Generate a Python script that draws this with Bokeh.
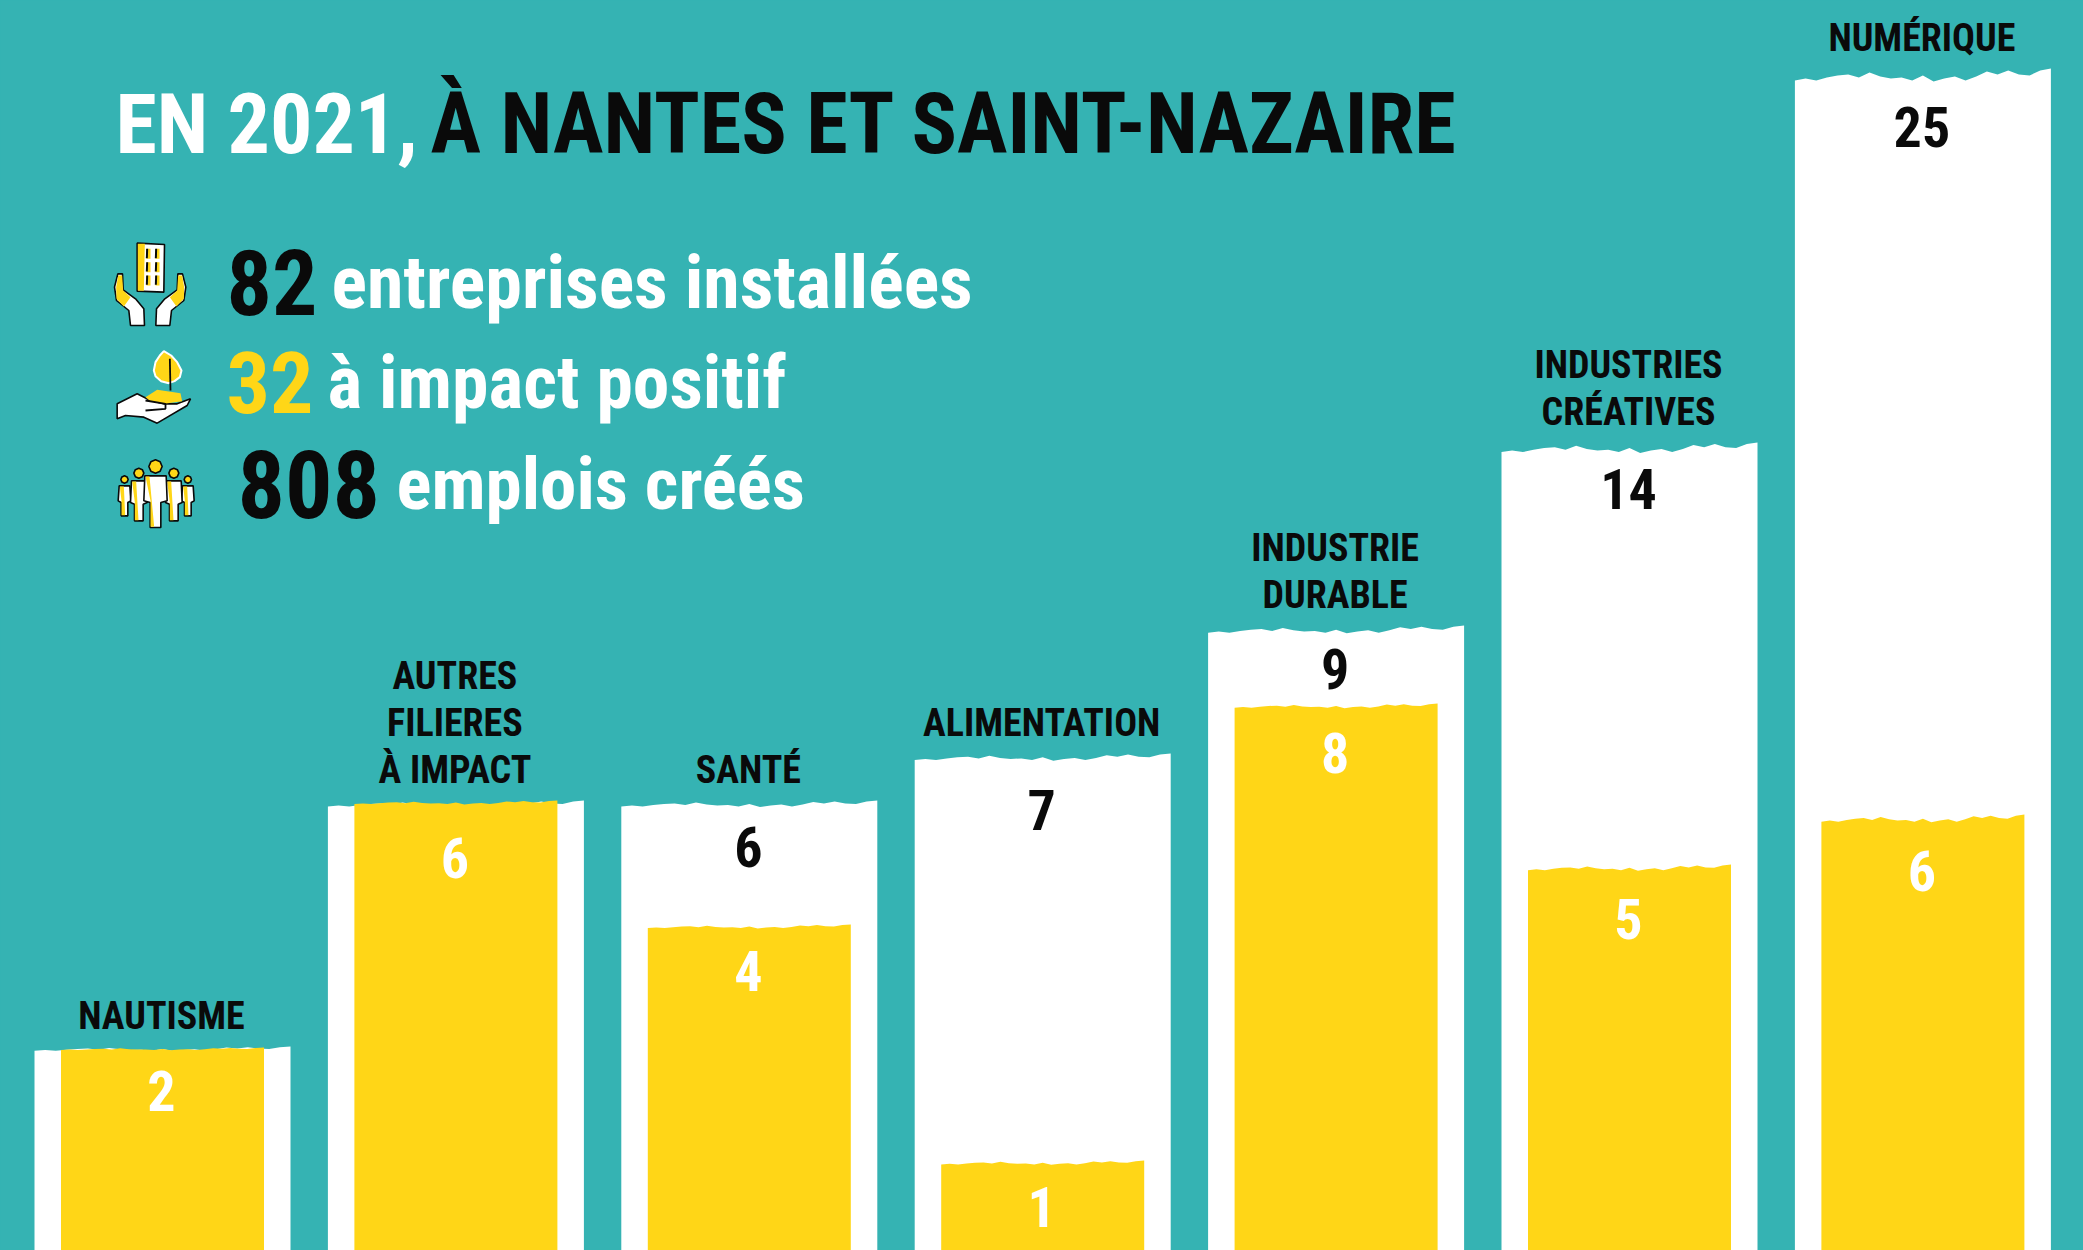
from bokeh.plotting import figure
from bokeh.models import Range1d
from bokeh.core.properties import value
from bokeh.embed import file_html
from bokeh.resources import INLINE

W, H = 2083, 1250
TEAL, YELLOW, WHITE, BLACK = "#35B3B3", "#FFD617", "#FFFFFF", "#0A0A0A"
FONT = value("'Roboto Condensed', Roboto")

# ---- data ----
categories = [["NAUTISME"], ["AUTRES", "FILIERES", "À IMPACT"], ["SANTÉ"], ["ALIMENTATION"],
              ["INDUSTRIE", "DURABLE"], ["INDUSTRIES", "CRÉATIVES"], ["NUMÉRIQUE"]]
total_companies = [2, 6, 6, 7, 9, 14, 25]
impact_companies = [2, 6, 4, 1, 8, 5, 6]
# drawn bar heights (the reference is not to scale)
total_heights = [204, 450, 450, 497, 625, 808, 1182]
impact_heights = [203, 450, 326, 90, 547, 386, 436]
tear_profile = [12, 10, 12, 9, 7, 6, 9, 4, 8, 10, 9, 12, 7, 13, 10, 8, 12, 8, 3, 6, 2, 6, 7, 2, 0]
tear_amount = [0.35, 0.5, 0.5, 0.55, 0.6, 0.8, 1.0]
total_drop = [0, 0, 46, 56, 43, 46, 58]
impact_drop = [43, 57, 46, 46, 49, 54, 56]

p = figure(width=W, height=H, output_backend="svg", toolbar_location=None,
           x_range=Range1d(0, W), y_range=Range1d(0, H), min_border=0,
           background_fill_color=TEAL, border_fill_color=TEAL, outline_line_color=None)
p.axis.visible = False
p.grid.visible = False

centers = [162 + 293.4 * i for i in range(len(categories))]


def torn_bar(cx, width, top, color, amp=1.0):
    n = len(tear_profile)
    xs = [cx - width / 2 + width * i / (n - 1) for i in range(n)]
    ys = [top - d * amp for d in tear_profile]
    p.patch(xs + [cx + width / 2, cx - width / 2], ys + [0, 0], fill_color=color, line_color=None)


for c, t, y, a in zip(centers, total_heights, impact_heights, tear_amount):
    torn_bar(c, 256, t, WHITE, a)
    torn_bar(c, 203, y, YELLOW, a * 0.6)


def txt(x, y, s, color, size, align="center", baseline="middle"):
    p.text([x], [y], text=[s], text_color=color, text_font=FONT, text_font_style="bold",
           text_font_size=f"{size}px", text_align=align, text_baseline=baseline)


for c, lines, top in zip(centers, categories, total_heights):
    for j, line in enumerate(reversed(lines)):
        txt(c - 1, top + 31 + 47 * j, line, BLACK, 38)

for i, c in enumerate(centers):
    if total_drop[i]:
        txt(c - 1, total_heights[i] - total_drop[i], str(total_companies[i]), BLACK, 56)
    txt(c - 1, impact_heights[i] - impact_drop[i], str(impact_companies[i]), WHITE, 56)

# header
txt(115, H - 124, "EN 2021,", WHITE, 84, "left")
txt(430, H - 124, "À NANTES ET SAINT-NAZAIRE", BLACK, 84.5, "left")
txt(226, H - 282, "82", BLACK, 90, "left")
txt(331, H - 282, "entreprises installées", WHITE, 74, "left")
txt(226, H - 382, "32", YELLOW, 86, "left")
txt(327, H - 382, "à impact positif", WHITE, 73.5, "left")
txt(237, H - 483, "808", BLACK, 94, "left")
txt(396, H - 483, "emplois créés", WHITE, 73, "left")


# icons: shapes in the coordinates of a 110x310 crop at (100,230), 3x
def ix(v):
    return [100 + a / 3 for a in v]


def iy(v):
    return [H - 230 - a / 3 for a in v]


def shape(pts, fill, line=BLACK, lw=1.6):
    xs, ys = zip(*pts)
    p.patch(ix(xs), iy(ys), fill_color=fill, line_color=line, line_width=lw)


def stroke(pts, lw=1.8):
    xs, ys = zip(*pts)
    p.line(ix(xs), iy(ys), line_color=BLACK, line_width=lw)


def disc(x, y, r, fill):
    shape([(x + r * a, y + r * b) for a, b in
           [(1, 0), (.7, .7), (0, 1), (-.7, .7), (-1, 0), (-.7, -.7), (0, -1), (.7, -.7)]], fill)


# building in hands
shape([(110, 38), (192, 42), (190, 185), (110, 182)], WHITE)
shape([(112, 40), (133, 40), (130, 181), (112, 180)], YELLOW, None)
for wx in (138, 165):
    for wy in (55, 95, 135):
        shape([(wx, wy), (wx + 12, wy), (wx + 12, wy + 30), (wx, wy + 30)], YELLOW, None)
        stroke([(wx + 2, wy), (wx + 1, wy + 28)], 2)
left_hand = [(52, 130), (66, 130), (68, 178), (105, 205), (130, 235), (132, 285), (90, 285),
             (85, 240), (48, 210), (42, 170)]
left_yellow = [(53, 135), (65, 135), (68, 180), (90, 200), (70, 228), (48, 205), (47, 170)]
shape(left_hand, WHITE)
shape(left_yellow, YELLOW, None)
shape([(298 - a, b) for a, b in left_hand], WHITE)
shape([(298 - a, b) for a, b in left_yellow], YELLOW, None)

# leaf on hand
shape([(190, 362), (212, 375), (230, 395), (243, 420), (238, 440), (222, 452), (205, 458), (182, 452),
       (165, 437), (160, 420), (165, 395), (178, 375)], YELLOW, WHITE, 2)
stroke([(208, 385), (210, 480)])
shape([(50, 520), (110, 490), (150, 510), (190, 520), (230, 520), (270, 505), (260, 525), (170, 578),
       (130, 560), (75, 555), (50, 565)], WHITE)
shape([(135, 500), (170, 478), (240, 488), (245, 512), (190, 520), (150, 512)], YELLOW, None)
stroke([(135, 510), (195, 520), (195, 535), (135, 540)])


# people
def person(cx, head_y, r, hw, sh, lg, fw):
    disc(cx, head_y, r, YELLOW)
    top = head_y + r + 8
    shape([(cx - hw, top), (cx + hw, top), (cx + hw + 3, top + sh), (cx + fw, top + sh + 5),
           (cx + fw, top + sh + lg), (cx - fw, top + sh + lg), (cx - fw, top + sh + 5), (cx - hw - 3, top + sh)], WHITE)
    shape([(cx - hw + 2, top + 2), (cx - hw + 14, top + 2), (cx - fw + 12, top + sh + lg - 2),
           (cx - fw + 1, top + sh + lg - 2), (cx - fw + 1, top + sh)], YELLOW, None)


person(72, 747, 11, 16, 45, 45, 10)
person(262, 747, 11, 16, 45, 45, 10)
person(115, 728, 15, 22, 65, 55, 13)
person(220, 728, 15, 22, 65, 55, 13)
person(165, 708, 20, 32, 75, 80, 16)

html = file_html(p, INLINE)
html = html.replace("<head>", "<head><style>html,body{margin:0;padding:0;overflow:hidden;background:#35B3B3}</style>", 1)
open("out.html", "w").write(html)
